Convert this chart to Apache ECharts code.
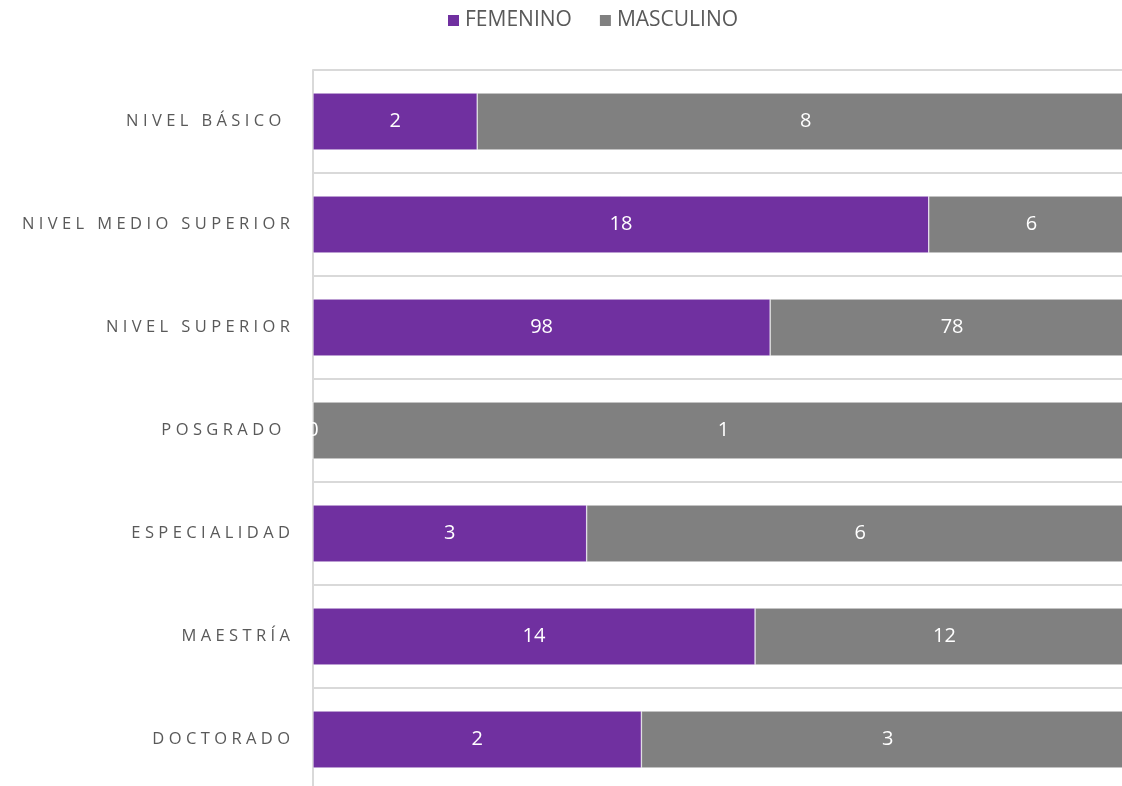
<!DOCTYPE html>
<html>
<head>
<meta charset="utf-8">
<script src="https://cdn.jsdelivr.net/npm/echarts@6/dist/echarts.min.js"></script>
<style>
  html, body { margin: 0; padding: 0; background: #fff; }
  #main { width: 1122px; height: 786px; }
</style>
</head>
<body>
<div id="main"></div>
<script>
// niveles de arriba hacia abajo
let niveles = ['NIVEL BÁSICO ', 'NIVEL MEDIO SUPERIOR', 'NIVEL SUPERIOR', 'POSGRADO ', 'ESPECIALIDAD', 'MAESTRÍA', 'DOCTORADO'];
let femenino = [2, 18, 98, 0, 3, 14, 2];
let masculino = [8, 6, 78, 1, 6, 12, 3];

// porcentajes para la barra al 100%
let pct = (arr, i) => {
  let total = femenino[i] + masculino[i];
  return total ? arr[i] / total * 100 : 0;
};

var myChart = echarts.init(document.getElementById('main'));

let etiqueta = (arr) => ({
  show: true,
  position: 'inside',
  color: '#fff',
  fontSize: 20,
  fontFamily: 'Open Sans',
  formatter: (p) => arr[p.dataIndex]
});

var option = {
  animation: false,
  legend: {
    top: 5,
    left: 441,
    icon: 'rect',
    itemWidth: 13,
    itemHeight: 13,
    itemGap: 26,
    textStyle: { color: '#595959', fontSize: 21, fontFamily: 'Open Sans' },
    data: ['FEMENINO', 'MASCULINO']
  },
  grid: { left: 313, top: 70, width: 821, height: 721, outerBoundsMode: 'none', containLabel: false },
  xAxis: {
    type: 'value',
    min: 0,
    max: 100,
    show: false
  },
  yAxis: {
    type: 'category',
    inverse: true,
    data: niveles,
    axisTick: { show: false },
    axisLine: { show: true, lineStyle: { color: '#d9d9d9', width: 2 } },
    splitLine: { show: true, lineStyle: { color: '#d9d9d9', width: 2 } },
    axisLabel: {
      color: '#595959',
      fontSize: 16.5,
      fontFamily: 'Open Sans',
      margin: 23,
      formatter: (v) => v.split('').join('\u2009\u200A')
    }
  },
  series: [
    {
      name: 'FEMENINO',
      type: 'bar',
      stack: 'total',
      barWidth: 57,
      itemStyle: { color: '#7030A0', borderColor: '#fff', borderWidth: 0.5 },
      label: etiqueta(femenino),
      data: femenino.map((v, i) => pct(femenino, i))
    },
    {
      name: 'MASCULINO',
      type: 'bar',
      stack: 'total',
      barWidth: 57,
      itemStyle: { color: '#808080', borderColor: '#fff', borderWidth: 0.5 },
      label: etiqueta(masculino),
      data: masculino.map((v, i) => pct(masculino, i))
    }
  ]
};
myChart.setOption(option);
</script>
</body>
</html>
